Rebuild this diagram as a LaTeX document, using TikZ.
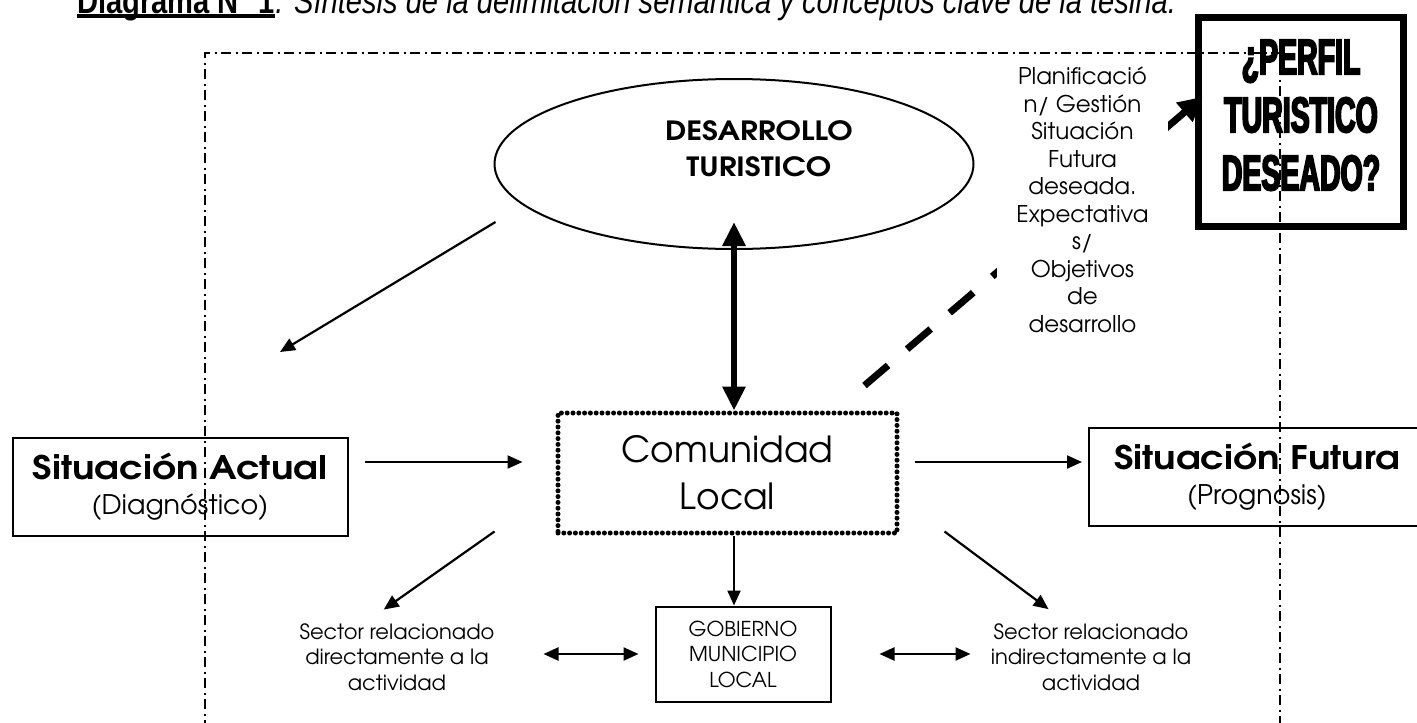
\documentclass[tikz,border=0pt]{standalone}
\usepackage{fontspec}
\setmainfont{texgyreadventor}[Extension=.otf,UprightFont=*-regular,BoldFont=*-bold,ItalicFont=*-italic,BoldItalicFont=*-bolditalic,BoldFeatures={FakeStretch=1.15}]
\newfontfamily\narrowfont{Liberation Sans}[FakeStretch=0.82]
\newfontfamily\perfilfont{Liberation Sans}[FakeStretch=0.57,BoldFeatures={FakeBold=3.5}]
\usetikzlibrary{shapes,arrows.meta,calc}

\tikzset{
  box/.style={draw,line width=2pt,align=center,inner sep=0pt},
  arr/.style={-{Triangle[length=15pt,width=13pt]},line width=2.2pt},
  darr/.style={{Triangle[length=15pt,width=13pt]}-{Triangle[length=15pt,width=13pt]},line width=2.4pt},
  smalltxt/.style={align=center,font=\fontsize{21}{25.5}\selectfont},
}

\begin{document}
\begin{tikzpicture}[x=1pt,y=-1pt]
\useasboundingbox (0,0) rectangle (1417,723);

% frame
\draw[line width=2pt,dash pattern=on 10pt off 4.5pt on 2pt off 4.5pt] (205,730) -- (205,53) -- (1280,53) -- (1280,730);

% title
\node (titlenum) at (77,13) [anchor=base west,inner sep=0pt,font=\narrowfont\bfseries\fontsize{35.5}{40}\selectfont] {Diagrama N° 1};
\node (titletext) at (titlenum.base east) [anchor=base west,inner sep=0pt,font=\narrowfont\itshape\fontsize{35.5}{40}\selectfont] {. Síntesis de la delimitación semántica y conceptos clave de la tesina.};
\draw[line width=4pt] ([yshift=-3pt]titlenum.base west) -- ([yshift=-3pt]titlenum.base east);

% nodes
\node (desarrollo) at (734,164) [draw,ellipse,line width=2pt,minimum width=479pt,minimum height=170pt] {};
\node (desarrollotxt) at (759,149) [align=center,font=\bfseries\fontsize{26.5}{36}\selectfont] {DESARROLLO\\TURISTICO};
\node (perfil) at (1301,122) [draw,line width=7pt,minimum width=205pt,minimum height=209pt,align=center,font=\perfilfont\bfseries\fontsize{50}{53}\selectfont] {¿PERFIL\\[5pt]TURISTICO\\[5pt]DESEADO?\rule[-14pt]{0pt}{14pt}};
\node (comunidad) at (727.5,473) [draw,line width=5pt,dash pattern=on 0pt off 5.8pt,line cap=round,minimum width=339pt,minimum height=120pt,align=center,font=\fontsize{36}{47}\selectfont] {Comunidad\\Local};
\node (actual) at (180,487) [box,minimum width=335pt,minimum height=98pt,font=\fontsize{27}{35}\selectfont] {{\bfseries\fontsize{32.5}{35}\selectfont Situación Actual}\\(Diagnóstico)};
\node (futura) at (1257,477) [box,minimum width=336pt,minimum height=98pt,font=\fontsize{27}{35}\selectfont] {{\bfseries\fontsize{32.5}{35}\selectfont Situación Futura}\\(Prognosis)};
\node (gobierno) at (743,654) [box,minimum width=175pt,minimum height=95pt,font=\fontsize{20.5}{25.5}\selectfont] {GOBIERNO\\MUNICIPIO\\LOCAL};
\node (sectordir) at (397,657) [smalltxt] {Sector relacionado\\directamente a la\\actividad};
\node (sectorind) at (1091,657) [smalltxt] {Sector relacionado\\indirectamente a la\\actividad};

% connectors
\draw[line width=7pt,dash pattern=on 31pt off 25pt,-{Triangle[length=24pt,width=24pt]},shorten >=-10pt] ([xshift=-35pt,yshift=25pt]comunidad.north east) -- (perfil.170);
\node (plan) at (1082.5,200) [fill=white,minimum width=171pt,align=center,font=\fontsize{23}{27.5}\selectfont] {Planificació\\n/ Gestión\\Situación\\Futura\\deseada.\\Expectativa\\s/\\Objetivos\\de\\desarrollo};

\draw[arr] ([xshift=2pt,yshift=-58pt]desarrollo.west) -- ([xshift=100pt,yshift=85pt]actual.north);
\draw[{Triangle[length=24pt,width=22pt]}-{Triangle[length=24pt,width=22pt]},line width=6pt,shorten <=-28pt] (desarrollo.south) -- (desarrollo.south |- comunidad.north);
\draw[arr,shorten <=16pt,shorten >=33pt] ([yshift=25pt]actual.east) -- ([yshift=25pt]actual.east -| comunidad.west);
\draw[arr,shorten <=15pt,shorten >=6pt] ([yshift=11pt]comunidad.east) -- ([yshift=11pt]comunidad.east -| futura.west);
\draw[arr] (comunidad.south -| desarrollo.south) -- (gobierno.north -| desarrollo.south);
\draw[arr,shorten >=18pt] ([xshift=-61pt,yshift=4pt]comunidad.south west) -- ([xshift=-28pt]sectordir.north);
\draw[arr,shorten >=18pt] ([xshift=45pt,yshift=4pt]comunidad.south east) -- ([xshift=-28pt]sectorind.north);
\draw[darr] ([xshift=-16pt]gobierno.west) -- ([xshift=-111pt]gobierno.west);
\draw[darr] ([xshift=48pt]gobierno.east) -- ([xshift=139pt]gobierno.east);
\end{tikzpicture}
\end{document}
